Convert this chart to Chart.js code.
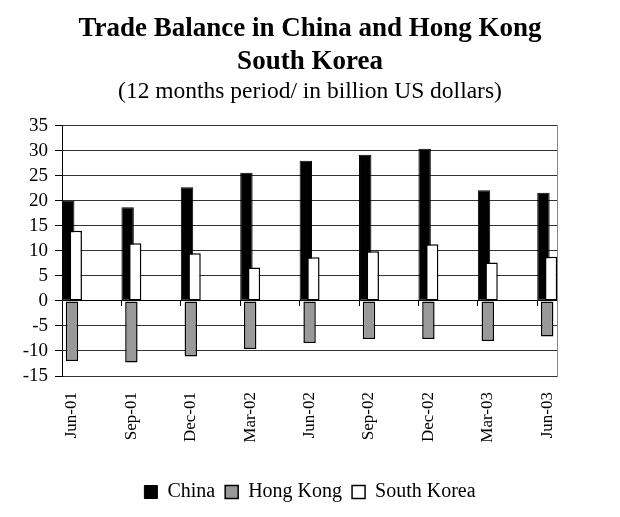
<!DOCTYPE html>
<html>
<head>
<meta charset="utf-8">
<script src="https://cdn.jsdelivr.net/npm/chart.js@4/dist/chart.umd.min.js"></script>
<style>
html,body{margin:0;padding:0;background:#fff;}
#wrap{width:620px;height:517px;}
</style>
</head>
<body>
<div id="wrap"><canvas id="c" width="620" height="517"></canvas></div>
<script>
const categories = ['Jun-01','Sep-01','Dec-01','Mar-02','Jun-02','Sep-02','Dec-02','Mar-03','Jun-03'];
const china = [20.0, 18.7, 22.7, 25.6, 28.0, 29.2, 30.4, 22.1, 21.6];
const hongKong = [-12.0, -12.3, -11.1, -9.6, -8.4, -7.6, -7.6, -8.0, -7.1];
const southKorea = [14.0, 11.5, 9.5, 6.7, 8.7, 9.9, 11.3, 7.7, 8.8];
const yTicks = [-15, -10, -5, 0, 5, 10, 15, 20, 25, 30, 35];

const FONT = "'Liberation Serif', 'Times New Roman', serif";
const pts = arr => arr.map((v, i) => ({x: i, y: v}));
const catTicks = s => { s.ticks = categories.map((c, i) => ({value: i})); };

// draw datasets in index order so later series sit on top
const drawOrderPlugin = {
  id: 'drawOrder',
  beforeDatasetsDraw(chart) {
    const ctx = chart.ctx, a = chart.chartArea;
    const metas = chart.getSortedVisibleDatasetMetas();
    ctx.save();
    ctx.beginPath();
    ctx.rect(a.left, a.top - 2, a.right - a.left, a.bottom - a.top + 4);
    ctx.clip();
    metas.forEach(m => m.controller.draw());
    ctx.restore();
    return false;
  }
};

new Chart(document.getElementById('c'), {
  type: 'bar',
  data: {
    datasets: [
      {label: 'China', data: pts(china), backgroundColor: '#000000', borderColor: '#000000', borderWidth: 1, borderSkipped: false},
      {label: 'Hong Kong', data: pts(hongKong), backgroundColor: '#999999', borderColor: '#000000', borderWidth: 1.5, borderSkipped: false},
      {label: 'South Korea', data: pts(southKorea), backgroundColor: '#ffffff', borderColor: '#000000', borderWidth: 1.5, borderSkipped: false}
    ]
  },
  options: {
    responsive: false,
    animation: false,
    devicePixelRatio: 1,
    categoryPercentage: 0.19,
    barPercentage: 3.3,
    layout: {padding: {left: 0, right: 0, top: 0, bottom: 5}},
    plugins: {
      title: {
        display: true,
        text: ['Trade Balance in China and Hong Kong', 'South Korea'],
        color: '#000',
        font: {family: FONT, size: 27, weight: 'bold', lineHeight: 1.22},
        padding: {top: 13, bottom: 0}
      },
      subtitle: {
        display: true,
        text: '(12 months period/ in billion US dollars)',
        color: '#000',
        font: {family: FONT, size: 23.5, lineHeight: 1.1},
        padding: {top: 0, bottom: 21}
      },
      legend: {
        position: 'bottom',
        labels: {
          color: '#000',
          font: {family: FONT, size: 20},
          boxWidth: 13, boxHeight: 13,
          padding: 10
        }
      },
      tooltip: {enabled: false}
    },
    scales: {
      x: {
        type: 'linear',
        position: 'bottom',
        offset: false,
        min: -0.168, max: 8.165,
        afterBuildTicks: catTicks,
        afterFit: s => { s.height = 96; },
        grid: {display: false, offset: false, drawTicks: true, tickLength: 8},
        border: {display: false},
        ticks: {
          autoSkip: false, minRotation: 90, maxRotation: 90,
          padding: 8, color: '#000',
          font: {family: FONT, size: 17},
          callback: v => categories[v] !== undefined ? categories[v] : ''
        }
      },
      xZero: {
        type: 'linear',
        position: {y: 0},
        offset: false,
        min: 0, max: 8.333,
        afterBuildTicks: catTicks,
        grid: {offset: false, drawOnChartArea: false, drawTicks: true, tickLength: 5, tickColor: '#000'},
        border: {display: true, color: '#000', width: 1},
        ticks: {display: false}
      },
      y: {
        type: 'linear',
        position: 'left',
        min: -15, max: 35,
        afterBuildTicks: s => { s.ticks = yTicks.map(v => ({value: v})); },
        afterFit: s => { s.width = 62; },
        grid: {color: '#333', lineWidth: 1, tickLength: 7, tickColor: '#000'},
        border: {display: true, color: '#000', width: 1},
        ticks: {autoSkip: false, color: '#000', padding: 7, font: {family: FONT, size: 19}}
      },
      yRight: {
        type: 'linear',
        position: 'right',
        min: -15, max: 35,
        afterFit: s => { s.width = 63; },
        grid: {display: false, drawTicks: false},
        border: {display: true, color: '#888', width: 1},
        ticks: {display: false}
      }
    }
  },
  plugins: [drawOrderPlugin]
});
</script>
</body>
</html>
